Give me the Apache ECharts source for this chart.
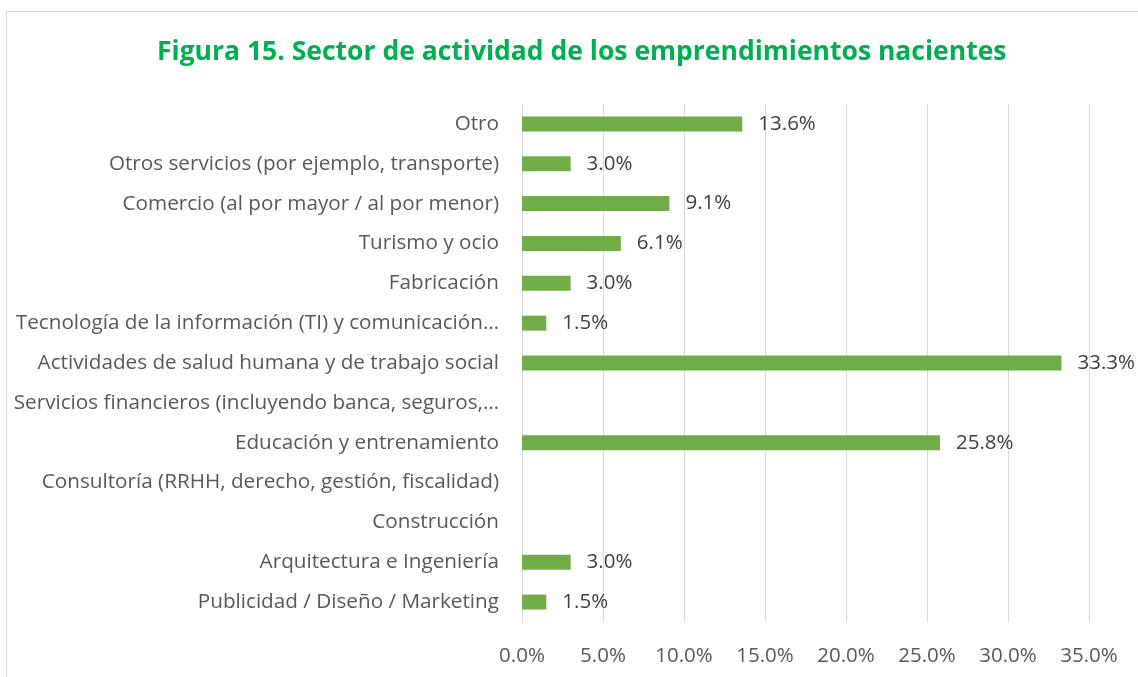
<!DOCTYPE html>
<html>
<head>
<meta charset="utf-8">
<script src="https://cdn.jsdelivr.net/npm/echarts@6/dist/echarts.min.js"></script>
<style>html,body{margin:0;padding:0;background:#fff}#c{width:1138px;height:677px}</style>
</head>
<body>
<div id="c"></div>
<script>
const categories = [
  "Otro",
  "Otros servicios (por ejemplo, transporte)",
  "Comercio (al por mayor / al por menor)",
  "Turismo y ocio",
  "Fabricación",
  "Tecnología de la información (TI) y comunicación…",
  "Actividades de salud humana y de trabajo social",
  "Servicios financieros (incluyendo banca, seguros,…",
  "Educación y entrenamiento",
  "Consultoría (RRHH, derecho, gestión, fiscalidad)",
  "Construcción",
  "Arquitectura e Ingeniería",
  "Publicidad / Diseño / Marketing"
];
const values = [13.6, 3.0, 9.1, 6.1, 3.0, 1.5, 33.3, 0, 25.8, 0, 0, 3.0, 1.5];
const xTicks = [0, 5, 10, 15, 20, 25, 30, 35];
const title = "Figura 15. Sector de actividad de los emprendimientos nacientes";

const FONT = "Open Sans";
const chart = echarts.init(document.getElementById('c'));
chart.setOption({
  animation: false,
  backgroundColor: '#ffffff',
  graphic: [{
    type: 'rect', silent: true,
    shape: { x: 6.5, y: 11.5, width: 1200, height: 700 },
    style: { fill: 'none', stroke: '#d9d9d9', lineWidth: 1 }
  }],
  title: {
    text: title, left: 152, top: 34,
    textStyle: { color: '#00B050', fontFamily: FONT, fontWeight: 'bold', fontSize: 26.5 }
  },
  grid: { left: 522, right: 49, top: 104, bottom: 55, containLabel: false },
  xAxis: {
    type: 'value', min: xTicks[0], max: xTicks[xTicks.length - 1], interval: 5,
    axisLine: { show: false }, axisTick: { show: false },
    splitLine: { lineStyle: { color: '#d9d9d9', width: 1 } },
    axisLabel: { color: '#595959', fontFamily: FONT, fontSize: 20.5, margin: 24,
      formatter: v => v.toFixed(1) + '%' }
  },
  yAxis: {
    type: 'category', data: categories, inverse: true,
    axisLine: { show: true, lineStyle: { color: '#d9d9d9' } },
    axisTick: { show: false },
    axisLabel: { color: '#595959', fontFamily: FONT, fontSize: 20.7, margin: 23 }
  },
  series: [{
    type: 'bar', data: values, barWidth: 15,
    itemStyle: { color: '#70AD47' },
    label: { show: true, position: 'right', distance: 16, color: '#404040',
      fontFamily: FONT, fontSize: 20.5,
      formatter: p => p.value > 0 ? p.value.toFixed(1) + '%' : '' }
  }]
});
</script>
</body>
</html>
